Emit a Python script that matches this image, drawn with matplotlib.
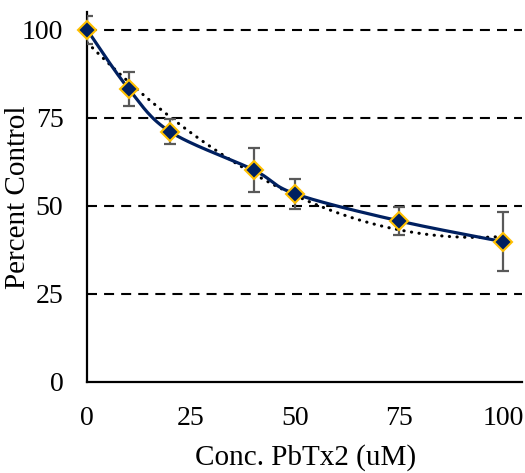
import numpy as np
import matplotlib
matplotlib.use("Agg")
import matplotlib.pyplot as plt

# Concentration of PbTx2 (uM) and response as percent of control
conc = [0, 10, 20, 40, 50, 75, 100]
percent = [100, 83.2, 71.0, 60.2, 53.4, 45.7, 39.8]
err = [4.0, 4.9, 3.5, 6.3, 4.3, 4.0, 8.4]

x_ticks = [0, 25, 50, 75, 100]
y_ticks = [0, 25, 50, 75, 100]


def smooth_curve(x, y, n=30):
    """Catmull-Rom style smoothed path through the points."""
    x = np.asarray(x, float)
    y = np.asarray(y, float)
    px = np.concatenate([[x[0]], x, [x[-1]]])
    py = np.concatenate([[y[0]], y, [y[-1]]])
    xs, ys = [], []
    for i in range(1, len(px) - 2):
        p0 = np.array([px[i - 1], py[i - 1]])
        p1 = np.array([px[i], py[i]])
        p2 = np.array([px[i + 1], py[i + 1]])
        p3 = np.array([px[i + 2], py[i + 2]])
        c1 = p1 + (p2 - p0) / 6.0
        c2 = p2 - (p3 - p1) / 6.0
        t = np.linspace(0, 1, n)[:, None]
        pts = ((1 - t) ** 3) * p1 + 3 * ((1 - t) ** 2) * t * c1 + 3 * (1 - t) * t ** 2 * c2 + t ** 3 * p2
        xs.append(pts[:, 0])
        ys.append(pts[:, 1])
    return np.concatenate(xs), np.concatenate(ys)


plt.rcParams["font.family"] = ["Liberation Serif", "DejaVu Serif"]

fig = plt.figure(figsize=(5.25, 4.73), dpi=100)
ax = fig.add_axes([0.1657, 0.1924, 0.8286, 0.7822])

# dashed horizontal gridlines
for yv in y_ticks[1:]:
    ax.axhline(yv, color="black", lw=1.5, ls=(0, (4.8, 3.4)), zorder=1)

# smoothed connecting line
sx, sy = smooth_curve(conc, percent)
ax.plot(sx, sy, color="#002060", lw=2.3, zorder=3, solid_capstyle="round")

# polynomial trendline
coef = np.polyfit(conc, percent, 2)
tx = np.linspace(0, 100, 200)
ax.plot(tx, np.polyval(coef, tx), color="black", lw=2.2,
        ls=(0, (0.1, 2.4)), dash_capstyle="round", zorder=2)

# error bars and markers
ax.errorbar(conc, percent, yerr=err, fmt="none", ecolor="#595959",
            elinewidth=1.6, capsize=4.5, capthick=1.6, zorder=4)
ax.plot(conc, percent, ls="none", marker="D", ms=9, mfc="#002060",
        mec="#FFC000", mew=1.5, zorder=5, clip_on=False)

ax.set_xlim(0, 104.5)
ax.set_ylim(0, 105)
ax.set_xticks(x_ticks)
ax.set_yticks(y_ticks)
ax.tick_params(length=0, labelsize=20, pad=17)

for side in ("top", "right"):
    ax.spines[side].set_visible(False)
for side in ("left", "bottom"):
    ax.spines[side].set_linewidth(1.6)
    ax.spines[side].set_color("black")

ax.set_xlabel("Conc. PbTx2 (uM)", fontsize=21)
ax.set_ylabel("Percent Control", fontsize=21)
ax.xaxis.set_label_coords(0.503, -0.168)
ax.yaxis.set_label_coords(-0.128, 0.5)

fig.savefig("out.png", dpi=100)
